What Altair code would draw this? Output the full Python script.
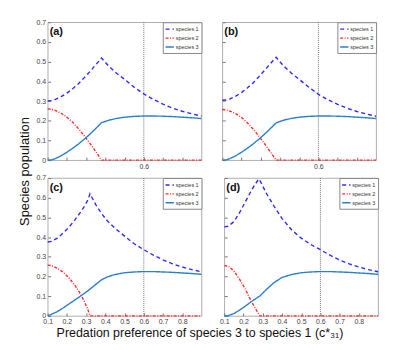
import altair as alt
import pandas as pd

FONT = "Liberation Sans"
names = ["species 1", "species 2", "species 3"]
colors = ["#2b2bff", "#ff2a2a", "#2a7fcc"]
dashes = [[4, 3], [3, 1.5, 1, 1.5], [1, 0]]
x_ticks = [0.1, 0.2, 0.3, 0.4, 0.5, 0.6, 0.7, 0.8]
y_ticks = [0, 0.1, 0.2, 0.3, 0.4, 0.5, 0.6, 0.7]
vline = [0.6]

# panel (a)
x_a = [0.10, 0.12, 0.14, 0.17, 0.20, 0.23, 0.26, 0.29, 0.32, 0.35, 0.38, 0.42,
       0.46, 0.50, 0.55, 0.60, 0.65, 0.70, 0.75, 0.80, 0.85, 0.90]
s1_a = [0.300, 0.302, 0.308, 0.322, 0.340, 0.362, 0.388, 0.418, 0.450, 0.484, 0.518, 0.475,
        0.440, 0.410, 0.370, 0.336, 0.308, 0.284, 0.264, 0.248, 0.235, 0.224]
s2_a = [0.260, 0.258, 0.252, 0.238, 0.218, 0.192, 0.160, 0.124, 0.085, 0.044, 0.000, 0.0,
        0.0, 0.0, 0.0, 0.0, 0.0, 0.0, 0.0, 0.0, 0.0, 0.0]
s3_a = [0.000, 0.001, 0.008, 0.022, 0.040, 0.060, 0.082, 0.106, 0.132, 0.160, 0.190, 0.203,
        0.212, 0.218, 0.222, 0.224, 0.224, 0.223, 0.221, 0.218, 0.215, 0.211]

# panel (b)
x_b = [0.10, 0.12, 0.14, 0.17, 0.20, 0.23, 0.26, 0.29, 0.32, 0.35, 0.38, 0.42,
       0.46, 0.50, 0.55, 0.60, 0.65, 0.70, 0.75, 0.80, 0.85, 0.90]
s1_b = [0.304, 0.305, 0.311, 0.325, 0.343, 0.366, 0.392, 0.423, 0.456, 0.490, 0.522, 0.477,
        0.441, 0.410, 0.370, 0.334, 0.306, 0.283, 0.263, 0.247, 0.234, 0.223]
s2_b = [0.257, 0.255, 0.249, 0.236, 0.216, 0.190, 0.158, 0.122, 0.083, 0.042, 0.000, 0.0,
        0.0, 0.0, 0.0, 0.0, 0.0, 0.0, 0.0, 0.0, 0.0, 0.0]
s3_b = [0.000, 0.001, 0.008, 0.022, 0.040, 0.060, 0.082, 0.106, 0.132, 0.160, 0.189, 0.203,
        0.212, 0.218, 0.222, 0.224, 0.224, 0.223, 0.221, 0.218, 0.215, 0.211]

# panel (c)
x_c = [0.10, 0.12, 0.15, 0.18, 0.21, 0.24, 0.27, 0.29, 0.31, 0.32, 0.35, 0.38,
       0.41, 0.45, 0.50, 0.55, 0.60, 0.65, 0.70, 0.75, 0.80, 0.85, 0.90]
s1_c = [0.375, 0.378, 0.395, 0.420, 0.450, 0.485, 0.525, 0.555, 0.590, 0.620, 0.565, 0.520,
        0.483, 0.445, 0.405, 0.366, 0.336, 0.308, 0.284, 0.264, 0.248, 0.235, 0.224]
s2_c = [0.258, 0.255, 0.242, 0.222, 0.194, 0.158, 0.112, 0.075, 0.030, 0.000, 0.0, 0.0,
        0.0, 0.0, 0.0, 0.0, 0.0, 0.0, 0.0, 0.0, 0.0, 0.0, 0.0]
s3_c = [0.000, 0.008, 0.022, 0.040, 0.060, 0.080, 0.100, 0.114, 0.128, 0.136, 0.160, 0.183,
        0.198, 0.210, 0.219, 0.223, 0.225, 0.225, 0.223, 0.221, 0.218, 0.215, 0.211]

# panel (d)
x_d = [0.10, 0.12, 0.15, 0.18, 0.21, 0.24, 0.26, 0.28, 0.285, 0.32, 0.36, 0.40,
       0.45, 0.50, 0.55, 0.60, 0.65, 0.70, 0.75, 0.80, 0.85, 0.90]
s1_d = [0.452, 0.455, 0.478, 0.525, 0.580, 0.635, 0.668, 0.695, 0.688, 0.620, 0.555, 0.495,
        0.437, 0.395, 0.362, 0.336, 0.308, 0.284, 0.264, 0.248, 0.235, 0.224]
s2_d = [0.255, 0.253, 0.228, 0.185, 0.135, 0.075, 0.040, 0.008, 0.000, 0.0, 0.0, 0.0,
        0.0, 0.0, 0.0, 0.0, 0.0, 0.0, 0.0, 0.0, 0.0, 0.0]
s3_d = [0.000, 0.001, 0.012, 0.030, 0.050, 0.072, 0.085, 0.098, 0.101, 0.135, 0.170, 0.195,
        0.210, 0.219, 0.223, 0.225, 0.225, 0.223, 0.221, 0.218, 0.215, 0.211]

W, H = 155, 139

AX = dict(grid=False, domain=False, tickSize=3, offset=-3, tickColor="#777",
          labelColor="#444", labelFontSize=7, labelFont=FONT, labelPadding=2,
          title=None)


def legend():
    return alt.Legend(title=None, orient="top-right", offset=0, strokeColor="#888",
                      fillColor="white", padding=2, labelFontSize=5.5, labelFont=FONT,
                      labelColor="#333", symbolType="stroke", symbolSize=70,
                      symbolStrokeWidth=1.4, rowPadding=0, labelOffset=1, labelLimit=60)


def panel(xs, s1, s2, s3, label, show_x, show_y):
    rows = []
    for name, vals in zip(names, [s1, s2, s3]):
        for x, v in zip(xs, vals):
            rows.append({"x": x, "v": v, "s": name})
    df = pd.DataFrame(rows)

    if show_x:
        xaxis = alt.Axis(values=x_ticks, format=".1f", labelFlush=False, **AX)
    else:
        xaxis = alt.Axis(values=x_ticks, format=".1f", labelFlush=False,
                         labelExpr="abs(datum.value-0.6)<0.001 ? '0.6' : ''", **AX)
    yaxis = alt.Axis(values=y_ticks, labels=show_y,
                     labelExpr="datum.value == 0 ? '0' : format(datum.value, '.1f')", **AX)

    xsc = alt.Scale(domain=[0.1, 0.9], nice=False, zero=False)
    ysc = alt.Scale(domain=[0, 0.7], nice=False)

    rule = alt.Chart(pd.DataFrame({"x": vline})).mark_rule(
        color="#666", strokeDash=[1, 1], strokeWidth=0.9
    ).encode(x=alt.X("x:Q", scale=xsc, axis=xaxis))

    lines = alt.Chart(df).mark_line(strokeWidth=1.4).encode(
        x=alt.X("x:Q", scale=xsc, axis=xaxis),
        y=alt.Y("v:Q", scale=ysc, axis=yaxis),
        color=alt.Color("s:N", scale=alt.Scale(domain=names, range=colors), legend=legend()),
        strokeDash=alt.StrokeDash("s:N", scale=alt.Scale(domain=names, range=dashes),
                                  legend=legend()),
    )

    lab = alt.Chart(pd.DataFrame({"t": [label]})).mark_text(
        align="left", baseline="top", fontSize=11, fontWeight="bold", font=FONT, color="#111"
    ).encode(text="t:N", x=alt.value(2), y=alt.value(4))

    return alt.layer(rule, lines, lab).properties(width=W, height=H)


pa = panel(x_a, s1_a, s2_a, s3_a, "(a)", False, True)
pb = panel(x_b, s1_b, s2_b, s3_b, "(b)", False, False)
pc = panel(x_c, s1_c, s2_c, s3_c, "(c)", True, True)
pd_ = panel(x_d, s1_d, s2_d, s3_d, "(d)", True, False)

row1 = alt.hconcat(pa, pb, spacing=13).resolve_scale(color="independent", strokeDash="independent")
row2 = alt.hconcat(pc, pd_, spacing=13).resolve_scale(color="independent", strokeDash="independent")
grid = alt.vconcat(row1, row2, spacing=3,
                   title=alt.TitleParams("Species population", orient="left", anchor="middle",
                                         font=FONT, fontSize=13, fontWeight="normal",
                                         color="#111", offset=4)
                   ).resolve_scale(color="independent", strokeDash="independent")
chart = alt.vconcat(grid,
                    title=alt.TitleParams("Predation preference of species 3 to species 1 (c*\u2083\u2081)",
                                          orient="bottom", anchor="middle", font=FONT,
                                          fontSize=12.5, fontWeight="normal", color="#111",
                                          offset=2)
                    ).resolve_scale(color="independent", strokeDash="independent").configure_view(
    stroke="#999", strokeWidth=0.8
).properties(padding={"left": 10, "top": 8, "right": 5, "bottom": 5}, background="white")

chart.save("out.html", embed_options={"renderer": "svg", "actions": False})
